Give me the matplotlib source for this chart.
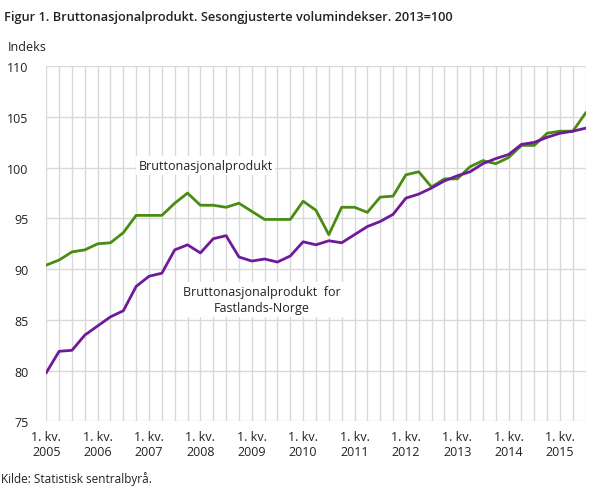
import matplotlib
matplotlib.use("Agg")
import matplotlib.pyplot as plt

plt.rcParams['font.family'] = ['Open Sans', 'DejaVu Sans']

# quarterly index, 2005 Q1 - 2015 Q3 (2013=100)
quarters = [f"{y}Q{q}" for y in range(2005, 2016) for q in range(1, 5)][:43]

bnp = [90.4, 90.9, 91.7, 91.9, 92.5, 92.6, 93.6, 95.3, 95.3, 95.3,
       96.5, 97.5, 96.3, 96.3, 96.1, 96.5, 95.7, 94.9, 94.9, 94.9,
       96.7, 95.8, 93.4, 96.1, 96.1, 95.6, 97.1, 97.2, 99.3, 99.6,
       98.1, 98.9, 98.9, 100.1, 100.7, 100.4, 101.0, 102.2, 102.2, 103.4,
       103.6, 103.6, 105.4]

bnp_fastland = [79.8, 81.9, 82.0, 83.5, 84.4, 85.3, 85.9, 88.3, 89.3, 89.6,
                91.9, 92.4, 91.6, 93.0, 93.3, 91.2, 90.8, 91.0, 90.7, 91.3,
                92.7, 92.4, 92.8, 92.6, 93.4, 94.2, 94.7, 95.4, 97.0, 97.4,
                98.0, 98.7, 99.2, 99.6, 100.4, 100.9, 101.3, 102.3, 102.5, 103.0,
                103.4, 103.6, 103.9]

year_labels = [f"1. kv.\n{y}" for y in range(2005, 2016)]

x = list(range(len(quarters)))

fig = plt.figure(figsize=(6.09, 4.89), dpi=100)
ax = fig.add_axes([0.076, 0.1364, 0.8857, 0.726])

ax.plot(x, bnp, color="#4a8c12", linewidth=2, zorder=3)
ax.plot(x, bnp_fastland, color="#6e1a9a", linewidth=2, zorder=3)

ax.set_xlim(0, len(x) - 1)
ax.set_ylim(75, 110)
ax.set_yticks(range(75, 111, 5))
ax.set_xticks(x, minor=True)
ax.set_xticks(x[::4])
ax.set_xticklabels(year_labels)

ax.grid(True, which="both", color="#d9d9d9", linewidth=1)
ax.set_axisbelow(True)
for s in ax.spines.values():
    s.set_visible(False)
ax.tick_params(which="both", length=0, labelsize=9, labelcolor="#222222")
ax.tick_params(axis="x", pad=6)
ax.tick_params(axis="y", pad=13)
for lbl in ax.get_yticklabels():
    lbl.set_horizontalalignment("right")

box = dict(facecolor="white", edgecolor="none", pad=2)
ax.text(12.4, 100.2, "Bruttonasjonalprodukt", ha="center", va="center",
        fontsize=9, color="#222222", bbox=box, zorder=2)
ax.text(16.8, 87.0, "Bruttonasjonalprodukt  for\nFastlands-Norge", ha="center",
        va="center", multialignment="center", fontsize=9, color="#222222",
        linespacing=1.35, bbox=box, zorder=2)

fig.text(0.007, 0.965, "Figur 1. Bruttonasjonalprodukt. Sesongjusterte volumindekser. 2013=100",
         fontsize=9.2, fontweight="semibold", color="#222222", va="center")
fig.text(0.013, 0.903, "Indeks", fontsize=9, color="#222222", va="center")
fig.text(0.001, 0.02, "Kilde: Statistisk sentralbyrå.", fontsize=8.5, color="#222222", va="center")

fig.savefig("out.png", dpi=100)
